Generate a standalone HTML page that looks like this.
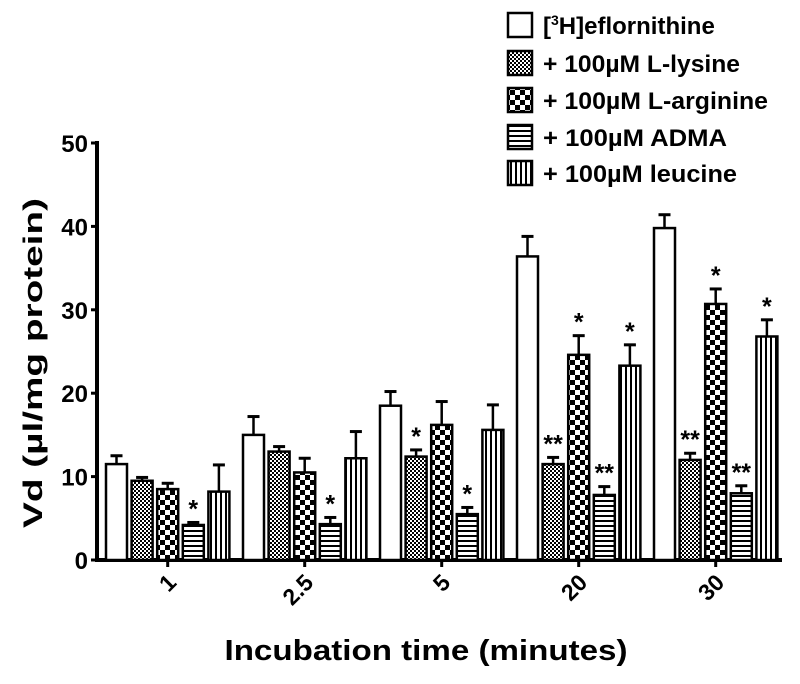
<!DOCTYPE html>
<html><head><meta charset="utf-8"><style>
body{margin:0;background:#fff;}
svg text{font-family:"Liberation Sans",Arial,sans-serif;font-weight:bold;fill:#000;}
</style></head><body>
<svg id="chart" width="800" height="679" viewBox="0 0 800 679" xmlns="http://www.w3.org/2000/svg">
<defs>
<pattern id="p-fine" patternUnits="userSpaceOnUse" width="4" height="4"><rect width="4" height="4" fill="#fff"/><rect width="2" height="2" fill="#000"/><rect x="2" y="2" width="2" height="2" fill="#000"/></pattern>
<pattern id="p-coarse" patternUnits="userSpaceOnUse" width="10" height="10"><rect width="10" height="10" fill="#fff"/><rect width="5" height="5" fill="#000"/><rect x="5" y="5" width="5" height="5" fill="#000"/></pattern>
<pattern id="p-horiz" patternUnits="userSpaceOnUse" width="6" height="5"><rect width="6" height="5" fill="#fff"/><rect width="6" height="2" fill="#000"/></pattern>
<pattern id="p-vert" patternUnits="userSpaceOnUse" width="5" height="6"><rect width="5" height="6" fill="#fff"/><rect width="2" height="6" fill="#000"/></pattern>
</defs>
<g id="axes"></g><g id="bars"></g><g id="legend"></g>
<text transform="translate(42,363) rotate(-90)" text-anchor="middle" font-size="27" textLength="330" lengthAdjust="spacingAndGlyphs">Vd (µl/mg protein)</text>
<text x="426" y="660" text-anchor="middle" font-size="29" textLength="403" lengthAdjust="spacingAndGlyphs">Incubation time (minutes)</text>
</svg>
<script>
const categories=["1","2.5","5","20","30"];
const seriesNames=["[3H]eflornithine","+ 100µM L-lysine","+ 100µM L-arginine","+ 100µM ADMA","+ 100µM leucine"];
const eflornithine=[11.5,15,18.5,36.4,39.8];
const lysine=[9.5,13,12.4,11.5,12];
const arginine=[8.5,10.5,16.2,24.6,30.7];
const adma=[4.2,4.3,5.5,7.8,8];
const leucine=[8.2,12.2,15.6,23.3,26.8];
const errEflornithine=[1,2.2,1.7,2.4,1.6];
const errLysine=[0.4,0.6,0.8,0.8,0.8];
const errArginine=[0.7,1.7,2.8,2.3,1.8];
const errAdma=[0.3,0.8,0.8,1,0.9];
const errLeucine=[3.2,3.2,3,2.5,2];
const yTicks=[0,10,20,30,40,50];
const sigMarks=[["","","","*",""],["","","","*",""],["","*","","*",""],["","**","*","**","*"],["","**","*","**","*"]];
const series=[eflornithine,lysine,arginine,adma,leucine];
const errs=[errEflornithine,errLysine,errArginine,errAdma,errLeucine];
const fills=["#fff","url(#p-fine)","url(#p-coarse)","url(#p-horiz)","url(#p-vert)"];
const legLens=[179,197,225,184,194];
const NS="http://www.w3.org/2000/svg";
const y0=560,yTop=143,yMax=50;
function y(v){return y0-(v/yMax)*(y0-yTop);}
const gx0=106,gPitch=137,bPitch=25.6,bW=21;
function bx(g,s){return gx0+g*gPitch+s*bPitch;}
function mk(tag,attrs,parent){const e=document.createElementNS(NS,tag);for(const k in attrs)e.setAttribute(k,attrs[k]);parent.appendChild(e);return e;}
const axes=document.getElementById('axes'),bars=document.getElementById('bars'),leg=document.getElementById('legend');
let yl=mk('line',{x1:97,y1:yTop-2,x2:97,y2:y0+2,stroke:'#000','stroke-width':4},axes);


let xl=mk('line',{x1:95,y1:y0,x2:782,y2:y0,stroke:'#000','stroke-width':4},axes);


yTicks.forEach(t=>{
 mk('line',{x1:91,y1:y(t),x2:97,y2:y(t),stroke:'#000','stroke-width':3},axes);
 const tx=mk('text',{x:88,y:y(t)+9,'text-anchor':'end','font-size':24},axes);tx.textContent=t;
 
 
});
categories.forEach((c,g)=>{
 const cx=bx(g,2)+bW/2;
 mk('line',{x1:cx,y1:y0,x2:cx,y2:y0+7,stroke:'#000','stroke-width':3},axes);
 const tx=mk('text',{transform:`translate(${cx+10},${y0+24}) rotate(-45)`,'text-anchor':'end','font-size':23},axes);tx.textContent=c;
 
 
 series.forEach((sv,s)=>{
  const v=sv[g],e=errs[s][g],x=bx(g,s);
  const ey=y(v+e);
  mk('line',{x1:x+bW/2,y1:ey,x2:x+bW/2,y2:y(v),stroke:'#000','stroke-width':2.5},bars);
  mk('line',{x1:x+bW/2-6,y1:ey,x2:x+bW/2+6,y2:ey,stroke:'#000','stroke-width':3},bars);
  const r=mk('rect',{x:x,y:y(v),width:bW,height:y0-y(v),fill:fills[s],stroke:'#000','stroke-width':2.5},bars);
  
  
  const m=sigMarks[g][s];
  if(m){const st=mk('text',{x:x+bW/2,y:ey-5,'text-anchor':'middle','font-size':25,'font-weight':'normal'},bars);st.textContent=m;
   
   }
 });
});
const legY=[25,63,100,137,173];
seriesNames.forEach((n,s)=>{
 const r=mk('rect',{x:508,y:legY[s]-12,width:24,height:24,fill:fills[s],stroke:'#000','stroke-width':2.5},leg);
 
 
 const t=mk('text',{x:543,y:legY[s]+9,'font-size':24,textLength:legLens[s],lengthAdjust:'spacingAndGlyphs'},leg);
 
 
 if(s===0){t.removeAttribute('textLength');t.innerHTML='[<tspan font-size="14" dy="-9">3</tspan><tspan dy="9">H]eflornithine</tspan>';}
 else t.textContent=n;
});
</script>
</body></html>
